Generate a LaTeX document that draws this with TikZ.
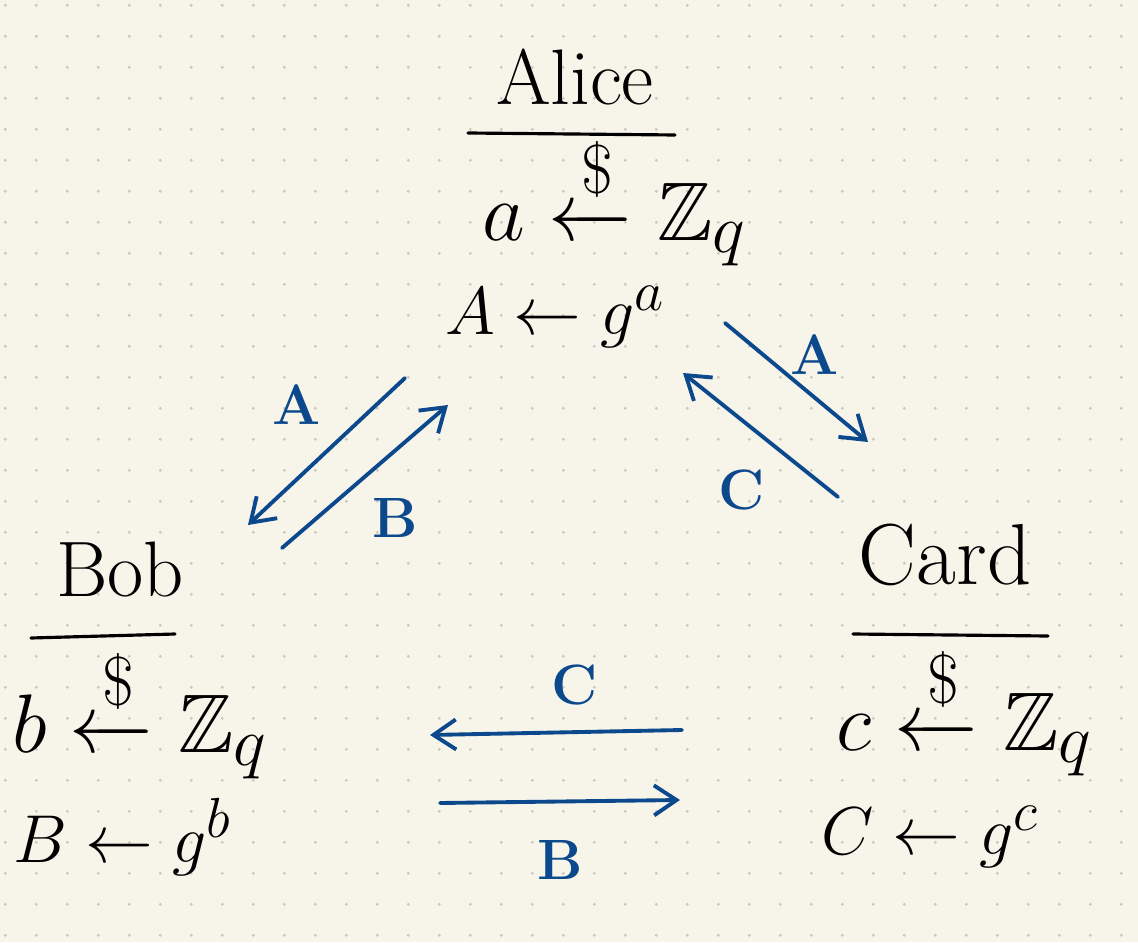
\documentclass[tikz,border=0pt]{standalone}
\usepackage{amsmath,amssymb}
\usetikzlibrary{arrows.meta,positioning,calc}
\definecolor{paper}{RGB}{247,245,234}
\definecolor{pdot}{RGB}{200,200,192}
\definecolor{ink}{RGB}{11,72,140}
\tikzset{
  who/.style={font=\Huge,scale=1.8,inner sep=1pt},
  eq/.style ={font=\Huge,scale=1.9,inner sep=1pt},
  gen/.style={font=\Huge,scale=1.55,inner sep=1pt},
  lbl/.style={font=\Huge\bfseries,text=ink,scale=1.3,inner sep=1pt},
  ar/.style ={-{Straight Barb[length=4.5mm,width=6mm,line width=2.2pt]},draw=ink,line width=2.2pt,line cap=round},
  rul/.style={line width=1.8pt,line cap=round},
  pdt/.style={fill=pdot},
}

\begin{document}
\begin{tikzpicture}
  % paper with dot grid
  \fill[paper] (0,0) rectangle (22.76,18.84);
  \useasboundingbox (0,0) rectangle (22.76,18.84);
  \foreach \i in {0,...,36}{
    \foreach \j in {0,...,30}{
      \fill[pdt] ({0.106+0.62*\i},{18.734-0.62*\j}) circle (0.032);
    }
  }
  % top: Alice
  \node[who] (alice) at (11.5,17.3) {Alice};
  \coordinate (ra1) at (9.36,16.18); \coordinate (ra2) at (13.5,16.14);
  \draw[rul] (ra1) -- (ra2);
  \node[eq] (sampa) at (12.3,14.85) {$a\xleftarrow{\$}\mathbb{Z}_q$};
  \node[gen] (pubA) at (11.1,12.5) {$A\leftarrow g^a$};
  % left: Bob
  \node[who] (bob) at (2.4,7.45) {Bob};
  \coordinate (rb1) at (0.62,6.08); \coordinate (rb2) at (3.5,6.16);
  \draw[rul] (rb1) -- (rb2);
  \node[eq] (sampb) at (2.8,4.6) {$b\xleftarrow{\$}\mathbb{Z}_q$};
  \node[gen] (pubB) at (2.45,2.1) {$B\leftarrow g^b$};
  % right: Card
  \node[who,scale=1.1] (card) at (18.9,7.75) {Card};
  \coordinate (rc1) at (17.06,6.16); \coordinate (rc2) at (20.96,6.12);
  \draw[rul] (rc1) -- (rc2);
  \node[eq] (sampc) at (19.3,4.65) {$c\xleftarrow{\$}\mathbb{Z}_q$};
  \node[gen] (pubC) at (18.6,2.1) {$C\leftarrow g^c$};
  % Alice <-> Bob
  \coordinate (ab1) at (8.1,11.28); \coordinate (ab2) at (4.96,8.34);
  \coordinate (ba1) at (5.64,7.88); \coordinate (ba2) at (8.96,10.74);
  \draw[ar] (ab1) -- (ab2);
  \draw[ar] (ba1) -- (ba2);
  \node[lbl] (labA1) at (5.94,10.74) {A};
  \node[lbl] (labB1) at (7.9,8.48) {B};
  % Alice <-> Card
  \coordinate (ac1) at (14.5,12.38); \coordinate (ac2) at (17.36,10.0);
  \coordinate (ca1) at (16.76,8.9); \coordinate (ca2) at (13.66,11.38);
  \draw[ar] (ac1) -- (ac2);
  \draw[ar] (ca1) -- (ca2);
  \node[lbl] (labA2) at (16.3,11.74) {A};
  \node[lbl] (labC1) at (14.84,9.04) {C};
  % Bob <-> Card
  \coordinate (cb1) at (13.64,4.24); \coordinate (cb2) at (8.6,4.14);
  \coordinate (bc1) at (8.8,2.78); \coordinate (bc2) at (13.6,2.84);
  \draw[ar] (cb1) -- (cb2);
  \draw[ar] (bc1) -- (bc2);
  \node[lbl] (labC2) at (11.5,5.14) {C};
  \node[lbl] (labB2) at (11.2,1.64) {B};
\end{tikzpicture}
\end{document}
